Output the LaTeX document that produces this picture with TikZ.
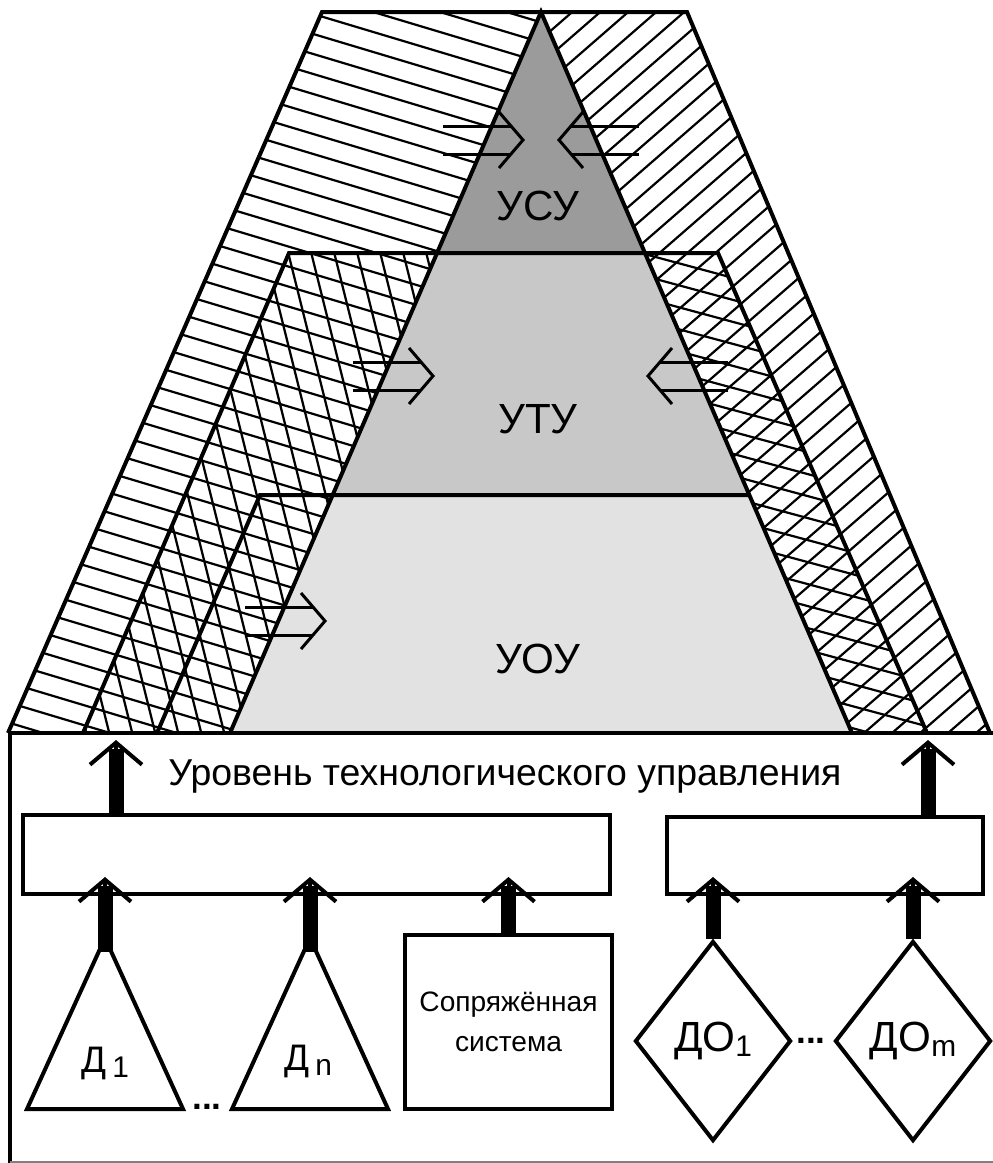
\documentclass[tikz,border=0pt]{standalone}
\usepackage{fontspec}
\setmainfont{Liberation Sans}
\usetikzlibrary{arrows.meta,shapes.geometric}
\definecolor{gtop}{HTML}{9B9B9B}
\definecolor{gmid}{HTML}{C8C8C8}
\definecolor{glow}{HTML}{E2E2E2}
\definecolor{rim}{HTML}{808080}
\newlength{\pxu}
\setlength{\pxu}{0.2mm}
\newcommand{\lowsub}[1]{\raisebox{-1mm}{\fontsize{17}{17}\selectfont #1}}
\tikzset{
  outl/.style={line width=4\pxu},
  hatch/.style={line width=2.2\pxu},
  thinl/.style={line width=3\pxu},
  lvl/.style={anchor=base,inner sep=0pt,font=\fontsize{24}{28}\selectfont},
  bus/.style={draw,outl,inner sep=0pt},
  dmd/.style={diamond,draw,outl,inner sep=0pt,minimum width=156\pxu,minimum height=200\pxu,font=\fontsize{24}{28}\selectfont},
  fat/.style={line width=4\pxu,-{Straight Barb[length=4.4mm,width=10.4mm]},
    preaction={draw,-,line width=15\pxu,shorten >=9\pxu}},
  harrow/.pic={
    \draw[thinl] (-80,-14) -- (-12,-14) (-80,14) -- (-12,14);
    \draw[thinl] (-24,-28) -- (0,0) -- (-24,28);
  },
}

\begin{document}
\begin{tikzpicture}[x=0.2mm,y=-0.2mm]
\useasboundingbox (0,0) rectangle (993,1163);
% hatching
\begin{scope}
  \clip (8,733) -- (322,12) -- (541,12) -- (230,733) -- cycle;
  \foreach \k in {-10,...,38} \draw[hatch] (0,20*\k) -- (600,20*\k+180);
\end{scope}
\begin{scope}
  \clip (541,12) -- (687,12) -- (990,733) -- (852,733) -- cycle;
  \foreach \hx in {-320,-292,...,1000} \draw[hatch] (\hx,740) -- (\hx+850,0);
\end{scope}
\begin{scope}
  \clip (83,733) -- (289,253) -- (437,253) -- (230,733) -- cycle;
  \foreach \hx in {-60,-37,...,460} \draw[hatch] (\hx,240) -- (\hx+125,740);
\end{scope}
\begin{scope}
  \clip (645,253) -- (718,253) -- (927,733) -- (852,733) -- cycle;
  \foreach \k in {5,...,35} \draw[hatch] (600,22*\k) -- (1000,22*\k+108);
\end{scope}
% levels
\fill[gtop] (541,12) -- (437,253) -- (645,253) -- cycle;
\fill[gmid] (437,253) -- (645,253) -- (749,495) -- (333,495) -- cycle;
\fill[glow] (333,495) -- (749,495) -- (852,733) -- (230,733) -- cycle;
\draw[outl] (8,733) -- (322,12) -- (687,12) -- (990,733);
\draw[outl] (8,733) -- (993,733);
\draw[outl] (83,733) -- (289,253) -- (718,253) -- (927,733);
\draw[outl] (157,733) -- (260,495) -- (749,495);
\draw[outl] (230,733) -- (541,12) -- (852,733);
\pic at (523,140) {harrow};
\pic[rotate=180] at (559,140) {harrow};
\pic at (433,376) {harrow};
\pic[rotate=180] at (648,376) {harrow};
\pic at (325,621) {harrow};
\node[lvl] (usu) at (538,220) {УСУ};
\node[lvl] (uty) at (538,433) {УТУ};
\node[lvl] (uou) at (538,673) {УОУ};
% technological level
\draw[outl] (10,733) -- (10,1163);
\draw[rim,line width=2\pxu] (10,1162) -- (993,1162);
\node[anchor=base,font=\fontsize{21.3}{25}\selectfont] (title) at (505,785) {Уровень технологического управления};
\node[bus,minimum width=587\pxu,minimum height=79\pxu] (bus1) at (316.5,854.5) {};
\node[bus,minimum width=316\pxu,minimum height=77\pxu] (bus2) at (825,855.5) {};
\node[bus,minimum width=207\pxu,minimum height=174\pxu,align=center,font=\fontsize{16}{23}\selectfont] (sopr) at (508.5,1022) {Сопряжённая\\система};
\draw[outl] (27,1109) -- (105,938) -- (183,1109) -- cycle;
\draw[outl] (232,1109) -- (310,938) -- (388,1109) -- cycle;
\node[anchor=base,font=\fontsize{21}{24}\selectfont] (d1) at (105,1072) {Д\,\lowsub{1}};
\node[anchor=base,font=\fontsize{21}{24}\selectfont] (dn) at (308,1070) {Д\,\lowsub{n}};
\node[dmd] (do1) at (713,1041) {ДО\lowsub{1}};
\node[dmd] (dom) at (913,1041) {ДО\lowsub{m}};
\node[anchor=base,font=\fontsize{20}{24}\selectfont\bfseries] (dots1) at (207,1109) {...};
\node[anchor=base,font=\fontsize{20}{24}\selectfont\bfseries] (dots2) at (811,1043) {...};
\coordinate (d1top) at (105,952);
\coordinate (dntop) at (310,952);
\coordinate (inlvl) at (0,877);
\coordinate (outL) at (116,740);
\coordinate (outR) at (928,740);
\draw[fat] (d1top) -- (d1top |- inlvl);
\draw[fat] (dntop) -- (dntop |- inlvl);
\draw[fat] (sopr.north) -- (sopr.north |- inlvl);
\draw[fat] (do1.north) -- (do1.north |- inlvl);
\draw[fat] (dom.north) -- (dom.north |- inlvl);
\draw[fat] (bus1.north -| outL) -- (outL);
\draw[fat] (bus2.north -| outR) -- (outR);
\end{tikzpicture}
\end{document}
